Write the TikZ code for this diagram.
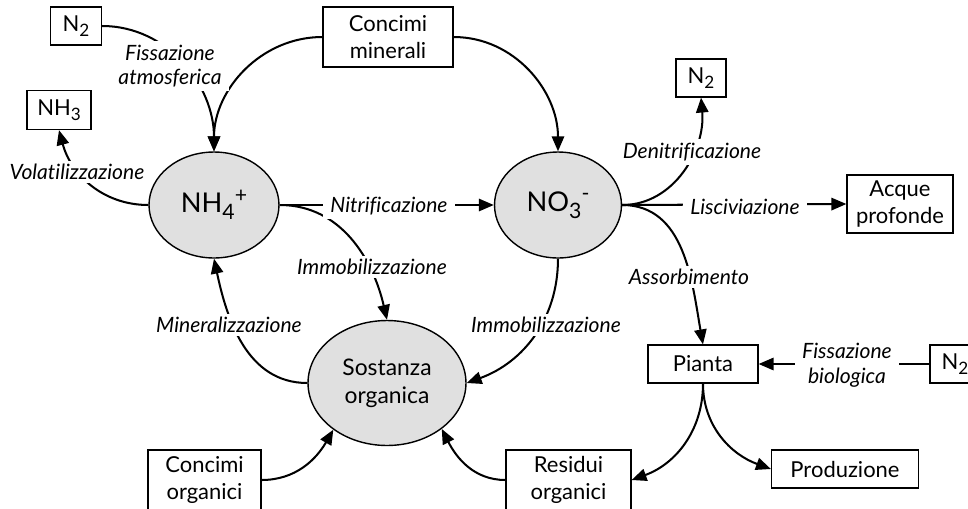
\documentclass[tikz,border=0pt]{standalone}
\usepackage{fontspec}
\setmainfont{Lato}[Ligatures=NoCommon]
\usetikzlibrary{shapes.geometric,arrows.meta}
\definecolor{poolgray}{gray}{0.88}
\newcommand{\chsub}[1]{\raisebox{-0.5ex}{\scalebox{0.78}{#1}}}
\newcommand{\chsup}[1]{\raisebox{0.75ex}{\scalebox{0.78}{#1}}}

\begin{document}
\begin{tikzpicture}[x=0.02cm, y=-0.02cm,
        box/.style={draw, line width=0.7pt, inner sep=0pt, align=center, font=\fontsize{12.5}{15.5}\selectfont},
        pool/.style={ellipse, draw, line width=0.8pt, fill=poolgray, inner sep=0pt, align=center, font=\fontsize{13}{16}\selectfont},
        proc/.style={fill=white, inner xsep=4pt, inner ysep=2pt, align=center, font=\fontsize{12}{14}\selectfont\itshape},
        flow/.style={line width=1.15pt, -{Triangle[length=8.5pt,width=7pt]}}]
    \useasboundingbox (0,0) rectangle (968,508);

    % pools
    \node[pool, minimum width=2.6cm, minimum height=2.12cm, font=\fontsize{15.5}{18}\selectfont] (NH4) at (214, 205) {NH\chsub{4}\chsup{+}};
    \node[pool, minimum width=2.54cm, minimum height=2.12cm, font=\fontsize{15.5}{18}\selectfont] (NO3) at (558, 205) {NO\chsub{3}\chsup{-}};
    \node[pool, minimum width=3.16cm, minimum height=2.5cm] (SO) at (387, 383) {Sostanza\\organica};

    % boxes
    \node[box, minimum width=1.02cm, minimum height=0.76cm] (N2a) at (76, 26) {N\chsub{2}};
    \node[box, minimum width=1.28cm, minimum height=0.78cm] (NH3) at (59, 110) {NH\chsub{3}};
    \node[box, minimum width=2.6cm, minimum height=1.2cm] (CM) at (388, 37) {Concimi\\minerali};
    \node[box, minimum width=1.0cm, minimum height=0.76cm] (N2b) at (701, 78) {N\chsub{2}};
    \node[box, minimum width=2.12cm, minimum height=1.16cm] (AP) at (900, 204) {Acque\\profonde};
    \node[box, minimum width=2.2cm, minimum height=0.76cm] (PI) at (703, 364) {Pianta};
    \node[box, minimum width=1.0cm, minimum height=0.76cm] (N2c) at (955, 364) {N\chsub{2}};
    \node[box, minimum width=2.94cm, minimum height=0.76cm] (PR) at (845, 469) {Produzione};
    \node[box, minimum width=2.26cm, minimum height=1.2cm] (CO) at (204.5, 480) {Concimi\\organici};
    \node[box, minimum width=2.5cm, minimum height=1.2cm] (RO) at (568.5, 480) {Residui\\organici};

    % flows
    \draw[flow] (N2a.east) to[out=0, in=90] (NH4.north);
    \draw[flow] (CM.west) to[out=180, in=90] (NH4.north);
    \draw[flow] (CM.east) to[out=0, in=90] (NO3.north);
    \draw[flow] (NH4.west) to[out=180, in=-75] (NH3.south);
    \draw[flow] (NH4.east) -- (NO3.west);
    \draw[flow] (NH4.east) to[out=0, in=103] (SO.north);
    \draw[flow] (SO.west) to[out=180, in=-78] (NH4.south);
    \draw[flow] (NO3.south) to[out=-90, in=20] (SO.east);
    \draw[flow] (CO.east) to[out=0, in=-120] (SO.-139);
    \draw[flow] (RO.west) to[out=180, in=-63] (SO.-40);
    \draw[flow] (NO3.east) to[out=0, in=-85] (N2b.south);
    \draw[flow] (NO3.east) -- (AP.west);
    \draw[flow] (NO3.east) to[out=0, in=100] (PI.north);
    \draw[flow] (N2c.west) -- (PI.east);
    \draw[flow] (PI.south) to[out=-90, in=20] (RO.east);
    \draw[flow] (PI.south) to[out=-90, in=160] (PR.west);

    % process labels
    \node[proc] (L1) at (170, 66) {Fissazione\\atmosferica};
    \node[proc] (L2) at (77, 172) {Volatilizzazione};
    \node[proc] (L3) at (389, 206) {Nitrificazione};
    \node[proc] (L4) at (372, 267) {Immobilizzazione};
    \node[proc] (L5) at (229, 325) {Mineralizzazione};
    \node[proc] (L6) at (546, 325) {Immobilizzazione};
    \node[proc] (L7) at (692, 152) {Denitrificazione};
    \node[proc] (L8) at (745, 207) {Lisciviazione};
    \node[proc] (L9) at (689, 277) {Assorbimento};
    \node[proc] (L10) at (847, 365) {Fissazione\\biologica};
\end{tikzpicture}
\end{document}
